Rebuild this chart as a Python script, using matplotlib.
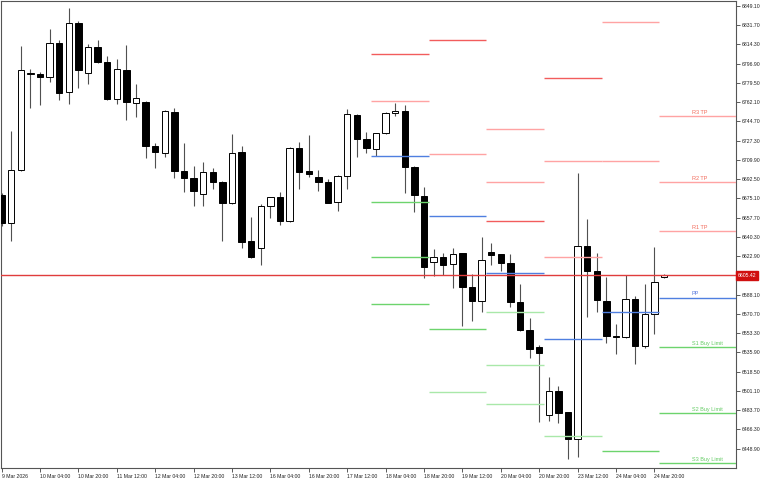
import numpy as np
import matplotlib
matplotlib.use("Agg")
import matplotlib.pyplot as plt

plt.rcParams['font.family'] = ['Liberation Sans', 'DejaVu Sans']

# 4H candles, 9 Mar 2026 .. 25 Mar 2026 00:00
opens = [6678.0, 6652.6, 6700.8, 6788.0, 6787.3, 6785.2, 6815.4, 6771.3, 6834.0, 6788.2,
         6812.3, 6798.7, 6765.3, 6791.2, 6761.7, 6762.6, 6722.8, 6716.5, 6753.5, 6700.2,
         6693.9, 6678.9, 6698.7, 6689.7, 6670.7, 6717.4, 6636.6, 6630.6, 6668.3, 6676.1,
         6654.7, 6720.4, 6699.9, 6694.2, 6690.3, 6671.6, 6695.4, 6750.5, 6728.8, 6719.5,
         6734.0, 6752.1, 6754.2, 6703.3, 6677.6, 6617.6, 6622.4, 6615.6, 6625.5, 6595.3,
         6582.1, 6626.7, 6624.6, 6616.4, 6581.5, 6556.2, 6540.8, 6479.3, 6501.0, 6481.7,
         6457.8, 6632.1, 6609.5, 6582.4, 6550.7, 6549.5, 6583.9, 6541.7, 6570.3, 6604.0]
highs = [6680.0, 6736.1, 6812.9, 6792.1, 6789.7, 6828.3, 6818.4, 6847.0, 6835.3, 6814.8,
         6818.4, 6803.9, 6801.5, 6813.8, 6778.3, 6763.0, 6725.0, 6755.1, 6756.6, 6725.5,
         6704.7, 6707.6, 6702.9, 6690.5, 6733.3, 6722.8, 6658.0, 6669.8, 6676.5, 6681.2,
         6721.3, 6726.4, 6732.3, 6700.8, 6692.4, 6696.3, 6755.7, 6751.0, 6734.9, 6734.5,
         6753.0, 6761.7, 6759.6, 6704.0, 6685.2, 6629.4, 6625.6, 6630.6, 6626.0, 6606.8,
         6640.5, 6635.1, 6625.0, 6624.6, 6597.5, 6566.9, 6542.6, 6513.4, 6505.5, 6482.0,
         6697.8, 6656.2, 6625.5, 6604.3, 6561.6, 6605.6, 6586.9, 6597.7, 6630.9, 6606.5]
lows = [6650.0, 6636.9, 6700.0, 6757.2, 6759.3, 6780.7, 6764.1, 6760.2, 6774.7, 6778.3,
        6797.3, 6764.1, 6760.2, 6746.0, 6749.0, 6711.4, 6702.4, 6712.3, 6693.3, 6680.7,
        6668.3, 6668.3, 6683.4, 6636.9, 6670.0, 6630.0, 6621.5, 6614.9, 6657.1, 6651.1,
        6654.1, 6683.4, 6694.2, 6682.1, 6670.7, 6664.0, 6683.4, 6712.8, 6716.5, 6713.5,
        6733.5, 6749.9, 6680.2, 6663.1, 6602.9, 6605.0, 6606.0, 6594.4, 6560.0, 6564.5,
        6572.7, 6614.9, 6609.5, 6576.7, 6555.2, 6530.6, 6473.2, 6473.9, 6471.8, 6439.2,
        6441.6, 6567.6, 6572.4, 6544.1, 6534.4, 6549.0, 6525.4, 6539.9, 6552.5, 6603.5]
closes = [6653.2, 6700.8, 6791.2, 6788.6, 6784.9, 6815.4, 6770.7, 6833.5, 6791.2, 6812.3,
          6798.2, 6765.0, 6791.9, 6762.0, 6765.6, 6722.5, 6716.8, 6753.9, 6699.9, 6693.9,
          6681.8, 6698.7, 6690.3, 6670.7, 6715.9, 6635.5, 6621.9, 6668.3, 6676.1, 6655.0,
          6720.4, 6699.3, 6697.2, 6690.0, 6671.3, 6695.4, 6751.2, 6728.6, 6721.0, 6734.0,
          6752.6, 6754.2, 6703.8, 6678.0, 6612.8, 6621.9, 6614.9, 6624.9, 6595.3, 6582.1,
          6619.1, 6623.9, 6616.4, 6581.5, 6556.2, 6539.2, 6535.6, 6501.0, 6480.8, 6457.3,
          6631.8, 6609.2, 6583.3, 6550.7, 6549.5, 6583.9, 6542.0, 6570.3, 6599.3, 6605.42]
last_price = 6605.42

time_labels = ["9 Mar 2026", "10 Mar 04:00", "10 Mar 20:00", "11 Mar 12:00", "12 Mar 04:00",
               "12 Mar 20:00", "13 Mar 12:00", "16 Mar 04:00", "16 Mar 20:00", "17 Mar 12:00",
               "18 Mar 04:00", "18 Mar 20:00", "19 Mar 12:00", "20 Mar 04:00", "20 Mar 20:00",
               "23 Mar 12:00", "24 Mar 04:00", "24 Mar 20:00"]
label_every = 4

# daily pivot levels, first bar of each day
day_first_bar = [39, 45, 51, 57, 63, 69]
piv_18 = [6805.7, 6763.5, 6713.5, 6671.9, 6621.9, 6579.4]
piv_19 = [6818.1, 6715.6, 6659.0, 6556.8, 6500.1]
piv_20 = [6737.6, 6690.0, 6654.7, 6607.4, 6572.2, 6524.5, 6489.2]
piv_23 = [6783.7, 6709.0, 6622.4, 6547.7, 6460.6]
piv_24 = [6834.9, 6709.0, 6572.4, 6446.7]
piv_25 = [6749.6, 6690.0, 6645.4, 6585.4, 6540.5, 6480.8, 6435.6]
piv_25_names = ['R3 TP', 'R2 TP', 'R1 TP', 'PP', 'S1 Buy Limit', 'S2 Buy Limit', 'S3 Buy Limit']

# line styles
col = {'r': '#f25c5c', 'p': '#ffa3a3', 'b': '#4f7fe0', 'g': '#6dd46d', 'lg': '#a9e8a9'}
txt_col = {'p': '#f26a5a', 'b': '#5577dd', 'g': '#66cc66'}
kinds = [['r', 'p', 'b', 'g', 'g', 'g'],
         ['r', 'p', 'b', 'g', 'lg'],
         ['p', 'p', 'r', 'b', 'lg', 'lg', 'lg'],
         ['r', 'p', 'p', 'b', 'lg'],
         ['p', 'p', 'b', 'g'],
         ['p', 'p', 'p', 'b', 'g', 'g', 'g']]
fs = 3.7

fig = plt.figure(figsize=(7.68, 4.8), dpi=100)
ax = fig.add_axes([1 / 768, 12.3 / 480, 735 / 768, 466.7 / 480])

n = len(opens)
x = np.arange(n)
o = np.array(opens); c = np.array(closes)
up = c >= o
ax.vlines(x, lows, highs, color='#505050', lw=0.8, zorder=2)
bottom = np.minimum(o, c)
height = np.maximum(np.abs(c - o), 0.6)
ax.bar(x[up], height[up], bottom=bottom[up], width=0.66, color='white',
       edgecolor='black', linewidth=0.7, zorder=3)
ax.bar(x[~up], height[~up], bottom=bottom[~up], width=0.66, color='black',
       edgecolor='black', linewidth=0.7, zorder=3)

x_right = 76.5
days = [piv_18, piv_19, piv_20, piv_23, piv_24, piv_25]
for d, (levels, ks) in enumerate(zip(days, kinds)):
    x0 = day_first_bar[d] - 0.5
    x1 = day_first_bar[d + 1] - 0.5 if d + 1 < len(day_first_bar) else x_right
    for lv, k in zip(levels, ks):
        ax.hlines(lv, x0, x1, color=col[k], lw=1.0, zorder=4)

for lv, name, k in zip(piv_25, piv_25_names, kinds[-1]):
    ax.annotate(name, (71.9, lv), xytext=(0, 0.8), textcoords='offset points',
                fontsize=fs + 0.3, color=txt_col[k], ha='left', va='bottom', zorder=5)

ax.axhline(last_price, color='#e03c3c', lw=1.0, zorder=4)

ax.set_xlim(-0.06, x_right)
ax.set_ylim(6431.6, 6853.6)

yt = np.round(np.arange(6448.9, 6850, 17.4), 2)
ax.yaxis.tick_right()
ax.set_yticks(yt)
ax.set_yticklabels(['' if abs(v - last_price) < 5 else f'{v:.2f}' for v in yt])
ax.set_xticks(x[::label_every])
ax.set_xticklabels(time_labels, ha='left')
ax.tick_params(axis='both', labelsize=fs, length=3, width=0.6, color='#404040',
               labelcolor='#202020', pad=1)
ax.tick_params(axis='x', pad=1.2)
for s in ax.spines.values():
    s.set_color('#555555')
    s.set_linewidth(0.8)

ax.text(1.0025, last_price, f'{last_price:.2f}', transform=ax.get_yaxis_transform(),
        fontsize=fs, color='white', va='center', ha='left', zorder=10, clip_on=False,
        bbox=dict(boxstyle='square,pad=0.3', fc='#d01010', ec='#d01010'))

fig.savefig('out.png', dpi=100, facecolor='white')
